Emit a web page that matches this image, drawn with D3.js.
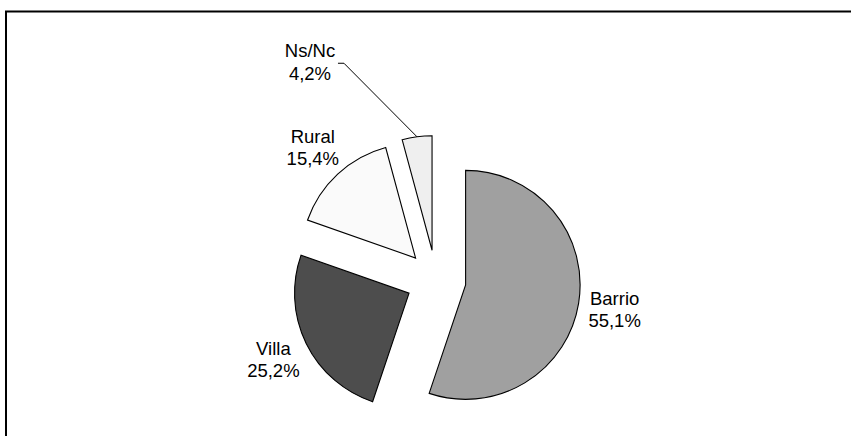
<!DOCTYPE html>
<html>
<head>
<meta charset="utf-8">
<title>Tipo de barrio</title>
<script src="https://cdn.jsdelivr.net/npm/d3@7"></script>
<style>
  html, body { margin: 0; background: #fff; overflow: hidden; }
  svg { display: block; }
  text { font-family: "Liberation Sans", Arial, sans-serif; font-size: 18.5px; fill: #000; }
</style>
</head>
<body>
<div id="chart"></div>
<script>
// data
var categories = ["Barrio", "Villa", "Rural", "Ns/Nc"];
var values = [55.1, 25.2, 15.4, 4.2];
var percentLabels = ["55,1%", "25,2%", "15,4%", "4,2%"];
var fills = ["#a0a0a0", "#4d4d4d", "#fafafa", "#efefef"];

var width = 851, height = 436;
var cx = 436, cy = 280;
var radius = 114.5;
var explode = 30;
var labelRadius = 181;
var lineGap = 22.5;

var svg = d3.select("#chart").append("svg")
  .attr("width", width).attr("height", height);

// frame: only the top and left edges show inside the picture
svg.append("path")
  .attr("d", d3.line()([[6, height], [6, 11.5], [width, 11.5]]))
  .attr("fill", "none").attr("stroke", "#000").attr("stroke-width", 2);

var pie = d3.pie().sort(null).value(function(d) { return d; });
var arcs = pie(values);

var arc = d3.arc().innerRadius(0).outerRadius(radius);
var offsetArc = d3.arc().innerRadius(explode).outerRadius(explode);
var labelArc = d3.arc().innerRadius(labelRadius).outerRadius(labelRadius);
var edgeArc = d3.arc().innerRadius(radius + explode).outerRadius(radius + explode);

var g = svg.append("g").attr("transform", "translate(" + cx + "," + cy + ")");

g.selectAll("path.slice").data(arcs).enter().append("path")
  .attr("class", "slice")
  .attr("transform", function(d) {
    var o = offsetArc.centroid(d);
    return "translate(" + o[0] + "," + o[1] + ")";
  })
  .attr("d", arc)
  .attr("fill", function(d, i) { return fills[i]; })
  .attr("stroke", "#000")
  .attr("stroke-width", 1.1);

// label positions: the small slice gets its label moved out with a leader line
function labelPos(d, i) {
  if (categories[i] == "Ns/Nc") {
    var e = edgeArc.centroid(d);
    return [e[0] - 107, e[1] - 75];
  }
  return labelArc.centroid(d);
}

var labels = g.selectAll("text.lbl").data(arcs).enter().append("text")
  .attr("class", "lbl")
  .attr("text-anchor", "middle")
  .attr("transform", function(d, i) {
    var p = labelPos(d, i);
    return "translate(" + p[0] + "," + p[1] + ")";
  });

labels.append("tspan").attr("x", 0).attr("y", -lineGap / 2 + 6.6)
  .text(function(d, i) { return categories[i]; });
labels.append("tspan").attr("x", 0).attr("y", lineGap / 2 + 6.6)
  .text(function(d, i) { return percentLabels[i]; });

// leader line for Ns/Nc
arcs.forEach(function(d, i) {
  if (categories[i] != "Ns/Nc") return;
  var p = labelPos(d, i);
  var e = edgeArc.centroid(d);
  var startX = p[0] + 28;
  var startY = p[1] + 1.5;
  g.append("path")
    .attr("d", d3.line()([[startX, startY], [startX + 6, startY], [e[0], e[1]]]))
    .attr("fill", "none")
    .attr("stroke", "#000")
    .attr("stroke-width", 1);
});
</script>
</body>
</html>
